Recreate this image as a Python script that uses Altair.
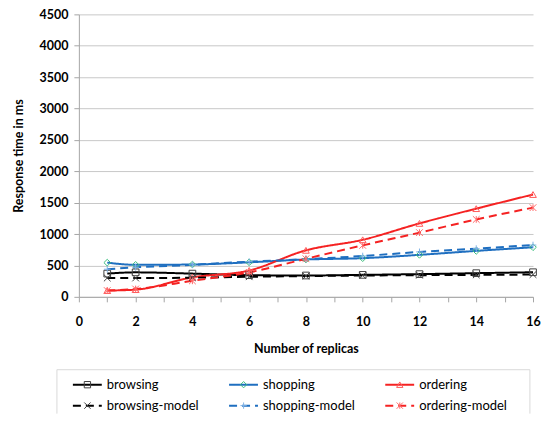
import altair as alt
import pandas as pd

replicas = [1, 2, 4, 6, 8, 10, 12, 14, 16]
series_names = ["browsing", "shopping", "ordering",
                "browsing-model", "shopping-model", "ordering-model"]
browsing = [370, 390, 370, 345, 340, 350, 362, 377, 392]
shopping = [545, 510, 515, 550, 595, 616, 669, 732, 790]
ordering = [100, 115, 310, 420, 741, 909, 1170, 1405, 1630]
browsing_model = [300, 300, 305, 320, 330, 340, 345, 350, 355]
shopping_model = [440, 470, 510, 560, 600, 650, 716, 768, 825]
ordering_model = [100, 125, 255, 390, 606, 820, 1023, 1233, 1421]

line_colors = ["#000000", "#1F6FC0", "#F52222", "#000000", "#1F6FC0", "#F52222"]
marker_colors = ["#404040", "#3FBF80", "#FF5A5A", "#404040", "#7FB2E5", "#FF6A6A"]
dash_styles = [[1, 0], [1, 0], [1, 0], [8, 5], [8, 5], [8, 5]]
widths = [2, 2, 2.3, 3, 3, 3]
X_PATH = "M-1,-1L1,1M-1,1L1,-1"
PLUS_PATH = "M-1,0L1,0M0,-1L0,1"
STAR_PATH = "M-1,-1L1,1M-1,1L1,-1M0,-1L0,1"
shapes = ["square", "diamond", "triangle-up", X_PATH, PLUS_PATH, STAR_PATH]
FONT = "Lato"
x_ticks = list(range(0, 17))
y_ticks = list(range(0, 4501, 500))

values = [browsing, shopping, ordering, browsing_model, shopping_model, ordering_model]
rows = []
for name, vals in zip(series_names, values):
    for r, v in zip(replicas, vals):
        rows.append({"series": name, "x": r, "y": v})
df = pd.DataFrame(rows)

col_scale = alt.Scale(domain=series_names, range=line_colors)
stroke_scale = alt.Scale(domain=series_names, range=marker_colors)
dash_scale = alt.Scale(domain=series_names, range=dash_styles)
width_scale = alt.Scale(domain=series_names, range=widths)
shape_scale = alt.Scale(domain=series_names, range=shapes)

xenc = alt.X("x:Q", scale=alt.Scale(domain=[0, 16], nice=False),
             axis=alt.Axis(values=x_ticks,
                           labelExpr="datum.value % 2 == 0 ? datum.label : ''",
                           title="Number of replicas", grid=False,
                           tickSize=5, labelPadding=14, titlePadding=14,
                           labelOverlap=False, labelFlush=False, format="d"))
yenc = alt.Y("y:Q", scale=alt.Scale(domain=[0, 4500], nice=False),
             axis=alt.Axis(values=y_ticks,
                           title="Response time in ms", tickSize=5,
                           labelPadding=6, titlePadding=13,
                           labelOverlap=False, labelFlush=False, format="d"))

base = alt.Chart(df).encode(x=xenc, y=yenc)
lines = base.mark_line(interpolate="monotone").encode(
    color=alt.Color("series:N", scale=col_scale, legend=None),
    strokeDash=alt.StrokeDash("series:N", scale=dash_scale, legend=None),
    strokeWidth=alt.StrokeWidth("series:N", scale=width_scale, legend=None),
    detail="series:N",
)
points = base.mark_point(filled=False, size=45, strokeWidth=1, opacity=1).encode(
    stroke=alt.Stroke("series:N", scale=stroke_scale, legend=None),
    shape=alt.Shape("series:N", scale=shape_scale, legend=None),
)
main = alt.layer(lines, points).properties(width=455, height=283)

# legend drawn from the series list
leg_cols = [0, 1, 2, 0, 1, 2]
leg_rows = [0, 0, 0, 1, 1, 1]
ldf = pd.DataFrame({"series": series_names, "col": leg_cols, "row": leg_rows})
ldf["xs"] = ldf["col"]
ldf["xe"] = ldf["col"] + 0.185
ldf["xm"] = ldf["col"] + 0.093
ldf["xt"] = ldf["col"] + 0.217

LH = 44
lx = alt.Scale(domain=[0.0383, 2.946], nice=False, zero=False)
ly_lo = -15 / 21
ly_hi = ly_lo + LH / 21
ly = alt.Scale(domain=[ly_lo, ly_hi], nice=False, zero=False, reverse=True)

seg = alt.Chart(ldf).mark_rule().encode(
    x=alt.X("xs:Q", scale=lx, axis=None), x2="xe:Q",
    y=alt.Y("row:Q", scale=ly, axis=None),
    color=alt.Color("series:N", scale=col_scale, legend=None),
    strokeDash=alt.StrokeDash("series:N", scale=dash_scale, legend=None),
    strokeWidth=alt.StrokeWidth("series:N", scale=width_scale, legend=None),
)
mk = alt.Chart(ldf).mark_point(filled=False, size=40, strokeWidth=1, opacity=1).encode(
    x=alt.X("xm:Q", scale=lx, axis=None),
    y=alt.Y("row:Q", scale=ly, axis=None),
    stroke=alt.Stroke("series:N", scale=stroke_scale, legend=None),
    shape=alt.Shape("series:N", scale=shape_scale, legend=None),
)
txt = alt.Chart(ldf).mark_text(align="left", baseline="middle", font=FONT,
                               fontSize=13, color="#000000").encode(
    x=alt.X("xt:Q", scale=lx, axis=None),
    y=alt.Y("row:Q", scale=ly, axis=None),
    text="series:N",
)
box_df = pd.DataFrame({"x1": [-0.1023, -0.1023, 2.926], "x2": [2.926, -0.1023, 2.926],
                       "y1": [ly_lo, ly_lo, ly_lo], "y2": [ly_lo, ly_hi, ly_hi]})
box = alt.Chart(box_df).mark_rule(color="#D9D9D9", strokeWidth=1).encode(
    x=alt.X("x1:Q", scale=lx, axis=None), x2="x2:Q",
    y=alt.Y("y1:Q", scale=ly, axis=None), y2="y2:Q",
)
legend = alt.layer(box, seg, mk, txt).properties(width=455, height=LH)

chart = alt.vconcat(main, legend, spacing=14).properties(
    padding={"left": 5, "top": 0, "right": 0, "bottom": 0}
).configure_view(stroke=None).configure_axis(
    labelFont=FONT, titleFont=FONT, labelFontSize=12.5, titleFontSize=12.5,
    labelFontWeight="bold", titleFontWeight="bold", labelColor="#000000",
    titleColor="#000000", gridColor="#C8C8C8", domainColor="#A6A6A6",
    tickColor="#A6A6A6",
).configure_scale(zero=False)

chart.save("out.html", embed_options={"renderer": "svg", "actions": False})
